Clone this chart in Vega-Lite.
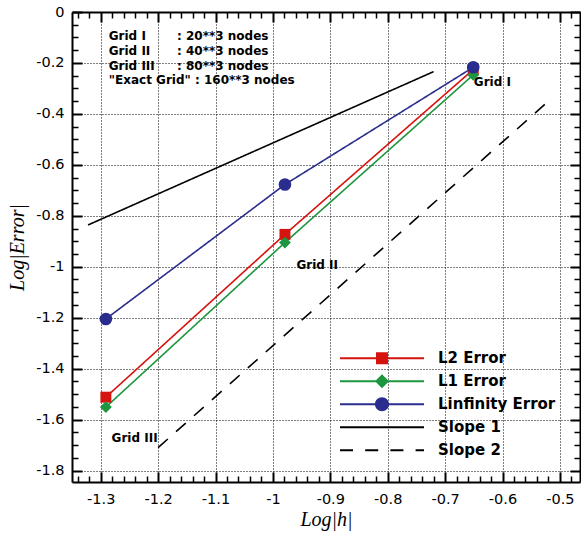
{
  "$schema": "https://vega.github.io/schema/vega-lite/v6.json",
  "autosize": {"type": "none"},
  "width": 508,
  "height": 470,
  "padding": {"left": 72, "top": 12, "right": 1, "bottom": 52},
  "background": "white",
  "config": {
    "view": {"stroke": null},
    "axis": {"labelFont": "DejaVu Sans", "labelFontSize": 14.5, "labelColor": "black", "titleColor": "black", "tickColor": "black", "domainColor": "black", "title": null, "grid": false}
  },
  "datasets": {
    "main": [
      {"series": "L2 Error", "x": -1.291, "y": -1.512},
      {"series": "L2 Error", "x": -0.979, "y": -0.873},
      {"series": "L2 Error", "x": -0.651, "y": -0.226},
      {"series": "L1 Error", "x": -1.291, "y": -1.551},
      {"series": "L1 Error", "x": -0.979, "y": -0.905},
      {"series": "L1 Error", "x": -0.651, "y": -0.247},
      {"series": "Linfinity Error", "x": -1.291, "y": -1.205},
      {"series": "Linfinity Error", "x": -0.979, "y": -0.677},
      {"series": "Linfinity Error", "x": -0.651, "y": -0.217},
      {"series": "Slope 1", "x": -1.322, "y": -0.836},
      {"series": "Slope 1", "x": -0.72, "y": -0.234},
      {"series": "Slope 2", "x": -1.2, "y": -1.71},
      {"series": "Slope 2", "x": -0.52, "y": -0.35}
    ],
    "blockleft": [
      {"x": -1.286, "y": -0.094, "text": "Grid I"},
      {"x": -1.286, "y": -0.153, "text": "Grid II"},
      {"x": -1.286, "y": -0.212, "text": "Grid III"}
    ],
    "blockright": [
      {"x": -1.167, "y": -0.094, "text": ": 20**3 nodes"},
      {"x": -1.167, "y": -0.153, "text": ": 40**3 nodes"},
      {"x": -1.167, "y": -0.212, "text": ": 80**3 nodes"}
    ],
    "exactrow": [
      {"x": -1.286, "y": -0.267, "text": "\"Exact Grid\" : 160**3 nodes"}
    ],
    "gridlabels": [
      {"x": -0.65, "y": -0.275, "text": "Grid I"},
      {"x": -0.959, "y": -0.994, "text": "Grid II"},
      {"x": -1.281, "y": -1.671, "text": "Grid III"}
    ]
  },
  "resolve": {"axis": {"x": "independent", "y": "independent"}},
  "layer": [
    {
      "data": {"name": "main"},
      "mark": {"type": "line", "strokeWidth": 1.6},
      "encoding": {
        "x": {"field": "x", "type": "quantitative",
          "scale": {"domain": [-1.35, -0.465], "nice": false, "zero": false},
          "axis": {"orient": "bottom", "title": "Log|h|", "titleFont": "Liberation Serif", "titleFontStyle": "italic", "titleFontWeight": "normal", "titleFontSize": 20, "titlePadding": 4,
            "values": [-1.3, -1.2, -1.1, -1.0, -0.9, -0.8, -0.7, -0.6, -0.5],
            "labelExpr": "toString(round(datum.value*10)/10)", "labelOverlap": false, "labelFlush": false, "labelPadding": 10,
            "ticks": false, "domainWidth": 2,
            "grid": true, "gridColor": "black", "gridDash": [1, 2], "gridWidth": 1, "gridOpacity": 1}},
        "y": {"field": "y", "type": "quantitative",
          "scale": {"domain": [-1.845, 0], "nice": false, "zero": false},
          "axis": {"orient": "left", "title": "Log|Error|", "titleFont": "Liberation Serif", "titleFontStyle": "italic", "titleFontWeight": "normal", "titleFontSize": 20, "titlePadding": 8,
            "values": [0, -0.2, -0.4, -0.6, -0.8, -1.0, -1.2, -1.4, -1.6, -1.8],
            "labelExpr": "toString(round(datum.value*10)/10)", "labelOverlap": false, "labelFlush": false, "labelPadding": 8,
            "ticks": false, "domainWidth": 2,
            "grid": true, "gridColor": "black", "gridDash": [1, 2], "gridWidth": 1, "gridOpacity": 1}},
        "color": {"field": "series", "type": "nominal",
          "scale": {"domain": ["L2 Error", "L1 Error", "Linfinity Error", "Slope 1", "Slope 2"], "range": ["#d6140f", "#1d963f", "#2b2d8e", "#000000", "#000000"]},
          "legend": {"orient": "none", "legendX": 268, "legendY": 335, "title": null, "padding": 0,
            "symbolSize": 7056, "symbolStrokeWidth": 0, "labelOffset": 14, "clipHeight": 22.5, "rowPadding": 0,
            "labelFont": "DejaVu Sans", "labelFontSize": 15, "labelFontWeight": "bold", "labelColor": "black", "labelLimit": 300,
            "encode": {"symbols": {"update": {
              "shape": {"signal": "datum.value === 'L2 Error' ? 'M-1,-0.025H-0.143V0.025H-1Z M0.143,-0.025H1V0.025H0.143Z M-0.143,-0.143H0.143V0.143H-0.143Z' : datum.value === 'L1 Error' ? 'M-1,-0.025H-0.1V0.025H-1Z M0.1,-0.025H1V0.025H0.1Z M0,-0.167L0.167,0L0,0.167L-0.167,0Z' : datum.value === 'Linfinity Error' ? 'M-1,-0.025H-0.15V0.025H-1Z M0.15,-0.025H1V0.025H0.15Z M-0.167,0A0.167,0.167 0 1,1 0.167,0A0.167,0.167 0 1,1 -0.167,0Z' : datum.value === 'Slope 1' ? 'M-1,-0.025H1V0.025H-1Z' : 'M-1,-0.025H-0.69V0.025H-1Z M-0.4,-0.025H-0.09V0.025H-0.4Z M0.2,-0.025H0.51V0.025H0.2Z M0.8,-0.025H1V0.025H0.8Z'"},
              "fill": {"scale": "color", "field": "value"},
              "stroke": {"value": "transparent"},
              "strokeWidth": {"value": 0},
              "opacity": {"value": 1},
              "fillOpacity": {"value": 1}
            }}}}},
        "strokeDash": {"field": "series", "type": "nominal",
          "scale": {"domain": ["L2 Error", "L1 Error", "Linfinity Error", "Slope 1", "Slope 2"], "range": [[1, 0], [1, 0], [1, 0], [1, 0], [13, 11]]},
          "legend": null}
      }
    },
    {
      "data": {"name": "main"},
      "transform": [{"filter": "datum.series !== 'Slope 1' && datum.series !== 'Slope 2'"}],
      "mark": {"type": "point", "filled": true, "opacity": 1, "strokeWidth": 0},
      "encoding": {
        "x": {"field": "x", "type": "quantitative",
          "scale": {"domain": [-1.35, -0.465], "nice": false, "zero": false},
          "axis": {"orient": "top", "labels": false, "ticks": false, "domainWidth": 2, "values": [-1.3, -1.2]}},
        "y": {"field": "y", "type": "quantitative",
          "scale": {"domain": [-1.845, 0], "nice": false, "zero": false},
          "axis": {"orient": "right", "labels": false, "ticks": false, "domainWidth": 2, "values": [-0.2, -0.4]}},
        "fill": {"field": "series", "type": "nominal",
          "scale": {"domain": ["L2 Error", "L1 Error", "Linfinity Error"], "range": ["#d6140f", "#1d963f", "#2b2d8e"]}, "legend": null},
        "shape": {"field": "series", "type": "nominal",
          "scale": {"domain": ["L2 Error", "L1 Error", "Linfinity Error"], "range": ["square", "diamond", "circle"]}, "legend": null},
        "size": {"field": "series", "type": "nominal",
          "scale": {"domain": ["L2 Error", "L1 Error", "Linfinity Error"], "range": [120, 160, 155]}, "legend": null}
      }
    },
    {
      "data": {"name": "blockleft"},
      "mark": {"type": "text", "align": "left", "baseline": "middle", "font": "DejaVu Sans", "fontWeight": "bold", "fontSize": 12, "color": "black"},
      "encoding": {
        "x": {"field": "x", "type": "quantitative",
          "scale": {"domain": [-1.35, -0.465], "nice": false, "zero": false},
          "axis": {"orient": "bottom", "labels": false, "domain": false, "offset": -10, "tickSize": 10, "tickWidth": 2,
            "values": [-1.3, -1.2, -1.1, -1.0, -0.9, -0.8, -0.7, -0.6, -0.5]}},
        "y": {"field": "y", "type": "quantitative",
          "scale": {"domain": [-1.845, 0], "nice": false, "zero": false},
          "axis": {"orient": "left", "labels": false, "domain": false, "offset": -10, "tickSize": 10, "tickWidth": 2,
            "values": [0, -0.2, -0.4, -0.6, -0.8, -1.0, -1.2, -1.4, -1.6, -1.8]}},
        "text": {"field": "text"}
      }
    },
    {
      "data": {"name": "blockright"},
      "mark": {"type": "text", "align": "left", "baseline": "middle", "font": "DejaVu Sans", "fontWeight": "bold", "fontSize": 12, "color": "black"},
      "encoding": {
        "x": {"field": "x", "type": "quantitative",
          "scale": {"domain": [-1.35, -0.465], "nice": false, "zero": false},
          "axis": {"orient": "top", "labels": false, "domain": false, "offset": -10, "tickSize": 10, "tickWidth": 2,
            "values": [-1.3, -1.2, -1.1, -1.0, -0.9, -0.8, -0.7, -0.6, -0.5]}},
        "y": {"field": "y", "type": "quantitative",
          "scale": {"domain": [-1.845, 0], "nice": false, "zero": false},
          "axis": {"orient": "right", "labels": false, "domain": false, "offset": -10, "tickSize": 10, "tickWidth": 2,
            "values": [0, -0.2, -0.4, -0.6, -0.8, -1.0, -1.2, -1.4, -1.6, -1.8]}},
        "text": {"field": "text"}
      }
    },
    {
      "data": {"name": "exactrow"},
      "mark": {"type": "text", "align": "left", "baseline": "middle", "font": "DejaVu Sans", "fontWeight": "bold", "fontSize": 12, "color": "black"},
      "encoding": {
        "x": {"field": "x", "type": "quantitative",
          "scale": {"domain": [-1.35, -0.465], "nice": false, "zero": false},
          "axis": {"orient": "bottom", "labels": false, "domain": false, "offset": -6, "tickSize": 6, "tickWidth": 1.5,
            "values": [-1.34,-1.32,-1.28,-1.26,-1.24,-1.22,-1.18,-1.16,-1.14,-1.12,-1.08,-1.06,-1.04,-1.02,-0.98,-0.96,-0.94,-0.92,-0.88,-0.86,-0.84,-0.82,-0.78,-0.76,-0.74,-0.72,-0.68,-0.66,-0.64,-0.62,-0.58,-0.56,-0.54,-0.52,-0.48]}},
        "y": {"field": "y", "type": "quantitative",
          "scale": {"domain": [-1.845, 0], "nice": false, "zero": false},
          "axis": {"orient": "left", "labels": false, "domain": false, "offset": -6, "tickSize": 6, "tickWidth": 1.5,
            "values": [-0.05,-0.1,-0.15,-0.25,-0.3,-0.35,-0.45,-0.5,-0.55,-0.65,-0.7,-0.75,-0.85,-0.9,-0.95,-1.05,-1.1,-1.15,-1.25,-1.3,-1.35,-1.45,-1.5,-1.55,-1.65,-1.7,-1.75]}},
        "text": {"field": "text"}
      }
    },
    {
      "data": {"name": "gridlabels"},
      "mark": {"type": "text", "align": "left", "baseline": "middle", "font": "DejaVu Sans", "fontWeight": "bold", "fontSize": 12, "color": "black"},
      "encoding": {
        "x": {"field": "x", "type": "quantitative",
          "scale": {"domain": [-1.35, -0.465], "nice": false, "zero": false},
          "axis": {"orient": "top", "labels": false, "domain": false, "offset": -6, "tickSize": 6, "tickWidth": 1.5,
            "values": [-1.34,-1.32,-1.28,-1.26,-1.24,-1.22,-1.18,-1.16,-1.14,-1.12,-1.08,-1.06,-1.04,-1.02,-0.98,-0.96,-0.94,-0.92,-0.88,-0.86,-0.84,-0.82,-0.78,-0.76,-0.74,-0.72,-0.68,-0.66,-0.64,-0.62,-0.58,-0.56,-0.54,-0.52,-0.48]}},
        "y": {"field": "y", "type": "quantitative",
          "scale": {"domain": [-1.845, 0], "nice": false, "zero": false},
          "axis": {"orient": "right", "labels": false, "domain": false, "offset": -6, "tickSize": 6, "tickWidth": 1.5,
            "values": [-0.05,-0.1,-0.15,-0.25,-0.3,-0.35,-0.45,-0.5,-0.55,-0.65,-0.7,-0.75,-0.85,-0.9,-0.95,-1.05,-1.1,-1.15,-1.25,-1.3,-1.35,-1.45,-1.5,-1.55,-1.65,-1.7,-1.75]}},
        "text": {"field": "text"}
      }
    }
  ]
}
